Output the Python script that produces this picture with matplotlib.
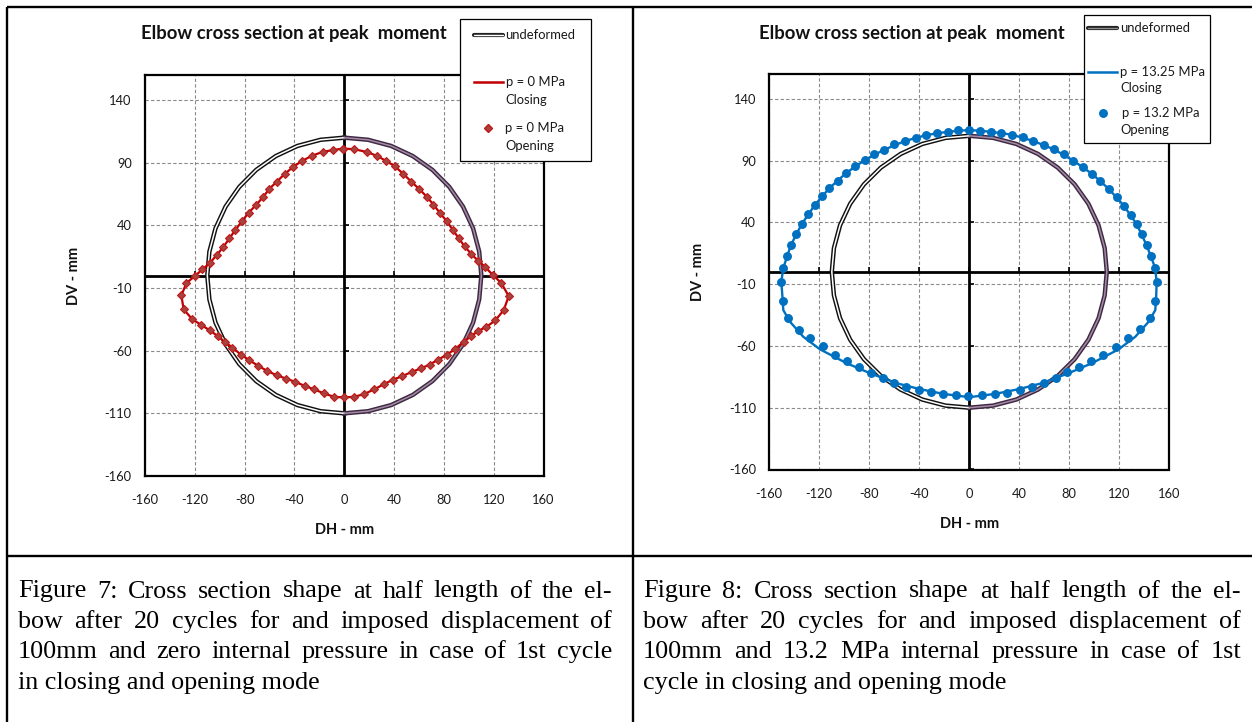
import matplotlib
matplotlib.use("Agg")
import matplotlib.pyplot as plt
from matplotlib.lines import Line2D
from matplotlib.patches import Rectangle

plt.rcParams['font.family'] = ['Lato', 'DejaVu Sans']
plt.rcParams['axes.unicode_minus'] = False

# ---------------- data ----------------
x_ticks = [-160, -120, -80, -40, 0, 40, 80, 120, 160]
y_ticks = [-160, -110, -60, -10, 40, 90, 140]

undeformed_left_x = [0, -19.1, -37.6, -55.0, -70.7, -84.3, -95.3, -103.4, -108.3, -110.0,
                     -108.3, -103.4, -95.3, -84.3, -70.7, -55.0, -37.6, -19.1, 0]
undeformed_right_x = [0, 19.1, 37.6, 55.0, 70.7, 84.3, 95.3, 103.4, 108.3, 110.0,
                      108.3, 103.4, 95.3, 84.3, 70.7, 55.0, 37.6, 19.1, 0]
undeformed_y = [110, 108.3, 103.4, 95.3, 84.3, 70.7, 55.0, 37.6, 19.1, 0,
                -19.1, -37.6, -55.0, -70.7, -84.3, -95.3, -103.4, -108.3, -110]

red_x = [-0.8, -8.8, -17.4, -25.7, -33.8, -41.0, -48.0, -54.1, -60.3, -65.4,
         -71.0, -76.9, -82.3, -87.4, -92.2, -97.3, -102.4, -107.8, -113.9, -120.1,
         -126.8, -130.8, -129.0, -122.0, -114.7, -108.0, -101.4, -96.0, -89.8, -83.1,
         -76.4, -69.2, -61.9, -54.4, -46.9, -39.4, -31.9, -24.1, -16.3, -8.3,
         -0.2, 7.8, 15.8, 23.9, 31.9, 39.4, 46.7, 54.2, 61.5, 68.4,
         75.6, 82.4, 89.1, 95.7, 101.7, 107.3, 114.0, 121.2, 127.9, 132.0,
         126.1, 119.4, 113.2, 107.3, 101.9, 96.5, 91.7, 86.9, 82.4, 77.0,
         71.6, 66.3, 60.1, 53.7, 47.5, 40.8, 33.5, 26.1, 18.0, 7.8, -0.8]
red_y = [101.3, 100.2, 98.6, 95.7, 91.5, 86.7, 80.9, 75.0, 69.0, 62.3,
         56.2, 49.9, 43.2, 36.4, 29.7, 22.5, 16.4, 10.1, 4.8, -0.5,
         -6.1, -15.9, -27.0, -35.0, -39.5, -43.8, -48.5, -53.0, -57.5, -63.1,
         -67.4, -72.1, -76.1, -79.6, -82.2, -84.9, -88.0, -90.9, -94.1, -96.8,
         -97.3, -96.8, -94.7, -90.9, -86.7, -83.0, -80.3, -76.9, -74.2, -71.1,
         -67.1, -63.1, -58.6, -53.0, -48.5, -44.3, -41.1, -35.8, -27.8, -16.5,
         -6.1, 0.3, 6.6, 11.9, 17.2, 23.3, 30.0, 36.6, 43.2, 49.6,
         56.5, 62.8, 69.0, 75.0, 80.9, 87.0, 91.5, 95.5, 98.6, 100.8, 101.3]

blue_open_x = [0, -8.8, -17.3, -25.8, -34.4, -42.9, -51.4, -60.0, -68.0, -76.0,
               -83.4, -91.2, -98.4, -105.3, -112.0, -118.1, -123.7, -129.0, -134.1, -138.6,
               -142.6, -145.8, -148.8, -150.4, -149.3, -144.8, -136.2, -127.4, -117.3, -107.4,
               -97.6, -88.2, -78.9, -69.3, -60.2, -50.6, -40.5, -30.6, -20.8, -10.6,
               -0.7, 10.1, 20.3, 30.2, 40.3, 50.4, 60.0, 69.4, 78.4, 88.0,
               97.4, 107.2, 117.1, 127.0, 136.3, 144.6, 148.6, 149.9, 148.6, 145.4,
               141.9, 138.2, 133.9, 129.1, 123.5, 117.9, 111.5, 104.6, 98.2, 90.7,
               83.2, 75.8, 67.8, 59.8, 51.2, 42.7, 34.2, 25.6, 17.1, 8.6]
blue_open_y = [114.7, 114.3, 113.3, 112.2, 110.6, 108.5, 105.8, 103.1, 98.8, 95.3,
               90.5, 85.3, 80.0, 73.8, 67.6, 60.9, 53.9, 46.4, 38.5, 30.2,
               21.9, 13.0, 3.1, -8.2, -23.5, -37.8, -47.2, -53.9, -60.0, -67.3,
               -72.2, -77.3, -82.1, -86.1, -89.7, -93.4, -95.6, -97.4, -98.8, -99.9,
               -100.4, -99.9, -99.0, -98.3, -95.6, -92.9, -89.9, -85.6, -81.3, -76.8,
               -72.2, -67.3, -60.6, -53.9, -46.6, -37.8, -23.5, -8.2, 3.4, 12.8,
               21.4, 30.2, 38.5, 46.1, 53.6, 60.3, 67.1, 73.5, 79.2, 85.0,
               89.9, 95.3, 99.0, 102.6, 105.8, 108.7, 110.9, 112.2, 113.3, 114.2]

blue_close_x = [0, -17.3, -34.4, -51.4, -68.0, -83.4, -98.4, -112.0, -123.7, -134.1,
                -142.6, -148.8, -150.4, -149.5, -148.8, -143.4, -132.8, -119.4, -98.1, -79.4,
                -58.1, -39.4, -20.8, 0, 20.8, 39.4, 58.1, 79.4, 98.1, 119.4,
                132.8, 143.4, 148.8, 149.5, 149.9, 148.6, 141.9, 133.9, 123.5, 111.5,
                98.2, 83.2, 67.8, 51.2, 34.2, 17.1, 0]
blue_close_y = [114.7, 113.3, 110.6, 105.8, 98.8, 90.5, 80.0, 67.6, 53.9, 38.5,
                21.9, 3.1, -8.2, -20.0, -31.0, -40.5, -52.6, -62.8, -74.0, -82.1,
                -90.2, -95.0, -98.8, -101.5, -98.8, -95.0, -90.2, -82.1, -74.0, -62.8,
                -52.6, -40.5, -31.0, -20.0, -8.2, 3.4, 21.4, 38.5, 53.6, 67.1,
                79.2, 89.9, 99.0, 105.8, 110.9, 113.3, 114.7]

title_text = "Elbow cross section at peak  moment"
caption7 = ["Figure 7: Cross section shape at half length of the el-",
            "bow after 20 cycles for and imposed displacement of",
            "100mm and zero internal pressure in case of 1st cycle",
            "in closing and opening mode"]
caption8 = ["Figure 8: Cross section shape at half length of the el-",
            "bow after 20 cycles for and imposed displacement of",
            "100mm and 13.2 MPa internal pressure in case of 1st",
            "cycle in closing and opening mode"]

# ---------------- figure ----------------
W, H = 1252, 722
fig = plt.figure(figsize=(W / 100, H / 100), dpi=100)
fig.patch.set_facecolor('white')


def fx(x):
    return x / W


def fy(y):
    return 1 - y / H


def fline(xs, ys, **kw):
    fig.add_artist(Line2D([fx(v) for v in xs], [fy(v) for v in ys],
                          transform=fig.transFigure, **kw))


# table lines
TL = dict(color='black', lw=1.7, solid_capstyle='butt', zorder=10)
fline([7, W], [7, 7], **TL)
fline([7, 7], [7, H], **TL)
fline([633, 633], [7, H], **TL)
fline([7, W], [555.5, 555.5], **TL)

GRID_C = '#8a8a8a'


def setup_axes(ax, left_px, top_px, right_px, bottom_px):
    ax.set_xlim(-160, 160)
    ax.set_ylim(-160, 160)
    ax.set_xticks(x_ticks)
    ax.set_yticks(y_ticks)
    ax.tick_params(axis='both', length=0, labelsize=9.3, colors='#1a1a1a')
    ax.tick_params(axis='x', pad=13)
    ax.tick_params(axis='y', pad=9.5)
    ax.grid(True, ls=(0, (3, 2)), color=GRID_C, lw=0.8)
    ax.set_axisbelow(True)
    for s in ax.spines.values():
        s.set_linewidth(1.6)
        s.set_color('black')
    ax.axhline(0, color='black', lw=2.0, zorder=2)
    ax.axvline(0, color='black', lw=2.0, zorder=2)
    ax.plot([0] * len(y_ticks), y_ticks, ls='none', marker=1, ms=3.5, mew=1.2,
            color='black', zorder=2, clip_on=False)
    ax.plot(x_ticks, [0] * len(x_ticks), ls='none', marker=2, ms=3.5, mew=1.2,
            color='black', zorder=2)
    hpx = bottom_px - top_px
    wpx = right_px - left_px
    ax.set_xlabel('DH - mm', fontsize=10.5, fontweight='bold', va='center',
                  color='#111111')
    ax.xaxis.set_label_coords(0.5, -(54.0 / hpx))
    ax.set_ylabel('DV - mm', fontsize=10.5, fontweight='bold', va='center',
                  color='#111111')
    ax.yaxis.set_label_coords(-(71.0 / wpx), 0.5)


def draw_undeformed(ax):
    ax.plot(undeformed_left_x, undeformed_y, color='#111111', lw=3.2, zorder=3,
            solid_joinstyle='round')
    ax.plot(undeformed_left_x, undeformed_y, color='white', lw=1.1, zorder=3.1,
            solid_joinstyle='round')
    ax.plot(undeformed_right_x, undeformed_y, color='#3d2a42', lw=3.2, zorder=3,
            solid_joinstyle='round')
    ax.plot(undeformed_right_x, undeformed_y, color='#a58aa5', lw=1.1, zorder=3.1,
            solid_joinstyle='round')


# left chart
L1, T1, R1, B1 = 145, 75, 543.6, 476
ax1 = fig.add_axes([fx(L1), fy(B1), (R1 - L1) / W, (B1 - T1) / H])
setup_axes(ax1, L1, T1, R1, B1)
draw_undeformed(ax1)
ax1.plot(red_x, red_y, color='#C00000', lw=1.6, zorder=4)
ax1.plot(red_x, red_y, ls='none', marker='D', ms=3.9, mfc='#A8423F', mec='#C01818',
         mew=0.8, zorder=5)

# right chart
L2, T2, R2, B2 = 769.3, 74, 1169.3, 469.5
ax2 = fig.add_axes([fx(L2), fy(B2), (R2 - L2) / W, (B2 - T2) / H])
setup_axes(ax2, L2, T2, R2, B2)
draw_undeformed(ax2)
ax2.plot(blue_close_x, blue_close_y, color='#0070C0', lw=1.7, zorder=4)
ax2.plot(blue_open_x, blue_open_y, ls='none', marker='o', ms=5.4, mfc='#0070C0',
         mec='#0070C0', zorder=5)

# titles
fig.text(fx(293.5), fy(34), title_text, fontsize=13.3, fontweight='bold',
         ha='center', va='center', color='#111111')
fig.text(fx(912), fy(34), title_text, fontsize=13.3, fontweight='bold',
         ha='center', va='center', color='#111111')


# legends (drawn as figure decorations)
def legend_box(x0, y0, x1, y1):
    fig.add_artist(Rectangle((fx(x0), fy(y1)), (x1 - x0) / W, (y1 - y0) / H,
                             transform=fig.transFigure, facecolor='white',
                             edgecolor='black', lw=0.9, zorder=20))


def ltext(x, y, s):
    fig.text(fx(x), fy(y), s, fontsize=9.4, ha='left', va='center', zorder=22,
             color='#1a1a1a')


def undeformed_handle(x0, x1, y, inner):
    fline([x0, x1], [y, y], color='#222222', lw=3.0, zorder=21, solid_capstyle='round')
    fline([x0, x1], [y, y], color=inner, lw=1.0, zorder=21.5, solid_capstyle='round')


legend_box(460, 19, 591, 161)
undeformed_handle(474, 503, 35, 'white')
ltext(505, 35, 'undeformed')
fline([474, 503], [82, 82], color='#C00000', lw=1.8, zorder=21)
ltext(506, 82, 'p = 0 MPa')
ltext(505, 99.5, 'Closing')
fline([488], [128], marker='D', ms=3.9, mfc='#A8423F', mec='#C01818', ls='none', zorder=21)
ltext(505, 128, 'p = 0 MPa')
ltext(505, 146, 'Opening')

legend_box(1083.5, 15, 1209.5, 142.5)
undeformed_handle(1088, 1117, 28, '#8c8c8c')
ltext(1120, 28, 'undeformed')
fline([1088, 1117], [72, 72], color='#0070C0', lw=1.8, zorder=21)
ltext(1120, 72, 'p = 13.25 MPa')
ltext(1120, 88.5, 'Closing')
fline([1102.7], [113], marker='o', ms=5.4, mfc='#0070C0', mec='#0070C0', ls='none', zorder=21)
ltext(1122, 113, 'p = 13.2 MPa')
ltext(1120, 130, 'Opening')

# captions (justified)
CAP = dict(fontsize=18.8, family=['Liberation Serif', 'DejaVu Serif'], color='black')
renderer = fig.canvas.get_renderer()


def caption(lines, x0, x1, base0, dy):
    for i, line in enumerate(lines):
        yb = base0 + i * dy
        if i == len(lines) - 1:
            fig.text(fx(x0), fy(yb), line, ha='left', va='baseline', **CAP)
            continue
        words = line.split(' ')
        ts = [fig.text(0, 0, w, ha='left', va='baseline', **CAP) for w in words]
        widths = [t.get_window_extent(renderer).width for t in ts]
        gap = (x1 - x0 - sum(widths)) / (len(words) - 1)
        xc = x0
        for t, wd in zip(ts, widths):
            t.set_position((fx(xc), fy(yb)))
            xc += wd + gap


caption(caption7, 18, 612, 597.5, 30.4)
caption(caption8, 643, 1241, 597.5, 30.4)

fig.savefig('out.png', dpi=100, facecolor='white')
